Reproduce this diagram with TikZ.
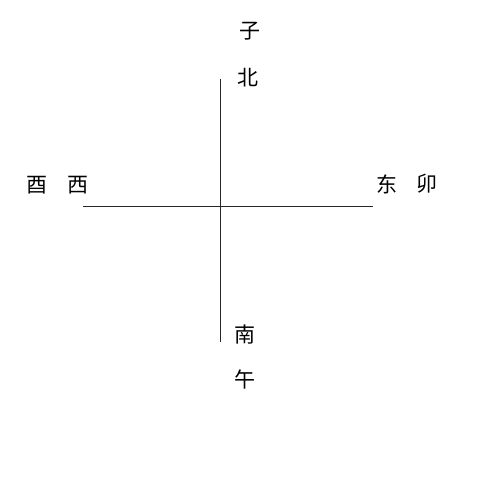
\documentclass[tikz,border=0pt]{standalone}
\usepackage{fontspec}
\newfontfamily\cjk{Noto Sans CJK SC:style=Light}
\begin{document}
\begin{tikzpicture}[x=1pt,y=-1pt,
  lbl/.style={font=\cjk\fontsize{21}{21}\selectfont, inner sep=0pt, text=black},
  axis/.style={draw=black!85, line width=0.9pt}]
\useasboundingbox[fill=white] (0,0) rectangle (500,500);
\node[lbl] (zi) at (250,31) {子};
\node[lbl] (bei) at (248,78) {北};
\node[lbl] (you) at (37,185) {酉};
\node[lbl] (xi) at (78,185) {西};
\node[lbl] (dong) at (387,184) {东};
\node[lbl] (mao) at (427,184) {卯};
\node[lbl] (nan) at (245,335) {南};
\node[lbl] (wu) at (245,379) {午};
\coordinate (c) at (220.5,206.5);
\coordinate (n) at (220.5,79);
\coordinate (s) at (220.5,342);
\coordinate (w) at (83,206.5);
\coordinate (e) at (373,206.5);
\draw[axis] (n) -- (c) -- (s);
\draw[axis] (w) -- (c) -- (e);
\end{tikzpicture}
\end{document}
